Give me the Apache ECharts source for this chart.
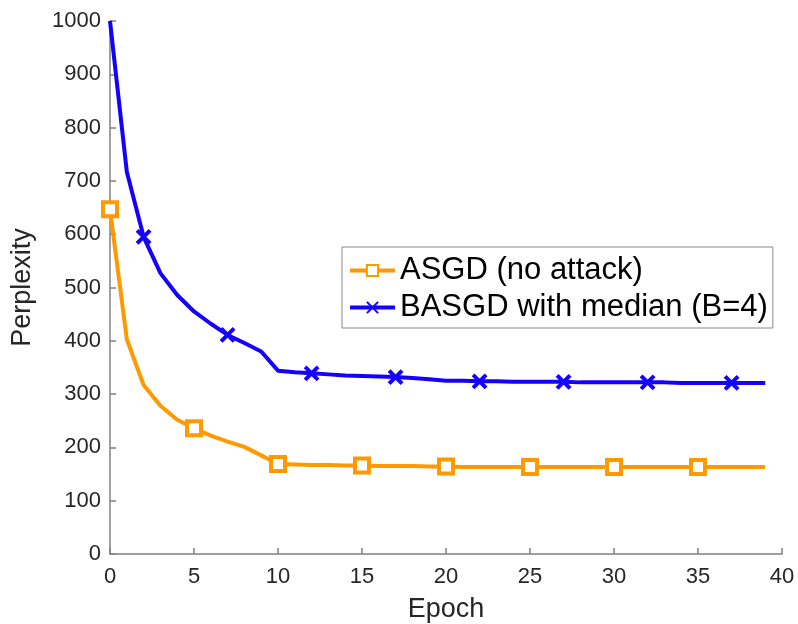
<!DOCTYPE html>
<html>
<head>
<meta charset="utf-8">
<script src="https://cdn.jsdelivr.net/npm/echarts@6/dist/echarts.min.js"></script>
<style>
  html, body { margin: 0; padding: 0; background: #fff; }
  #chart { width: 798px; height: 624px; }
</style>
</head>
<body>
<div id="chart"></div>
<script>
var epochs = [];
for (var e = 0; e < 40; e++) epochs.push(e);

// values
var asgd = [647, 403, 317, 278, 252, 236, 222, 211, 201, 185,
            169, 168, 167, 167, 166, 166, 165, 165, 165, 164,
            164, 163, 163, 163, 163, 163, 163, 163, 163, 163,
            163, 163, 163, 163, 163, 163, 163, 163, 163, 163];
var basgd = [1000, 717, 595, 527, 486, 455, 432, 411, 396, 380,
             344, 341, 339, 337, 335, 334, 333, 332, 330, 328,
             325, 325, 324, 324, 323, 323, 323, 323, 322, 322,
             322, 322, 322, 322, 321, 321, 321, 321, 321, 321];
var asgdMarks = [0, 5, 10, 15, 20, 25, 30, 35];
var basgdMarks = [2, 7, 12, 17, 22, 27, 32, 37];

function build(values, marks) {
    return values.map(function (v, i) {
        var item = { value: [epochs[i], v] };
        if (marks.indexOf(i) < 0) item.symbol = 'none';
        return item;
    });
}

var myChart = echarts.init(document.getElementById('chart'));
var fontFam = 'Liberation Sans, Arial, sans-serif';
var axisGray = '#808080';

option = {
    backgroundColor: '#fff',
    animation: false,
    grid: { left: 110, right: 16, top: 21, bottom: 70, outerBoundsMode: 'none', containLabel: false },
    legend: {
        orient: 'vertical',
        left: 342,
        top: 247,
        padding: [8, 5, 5, 6],
        itemGap: 6,
        itemWidth: 45,
        itemHeight: 14,
        borderColor: '#888',
        borderWidth: 1,
        lineStyle: { width: 4 },
        textStyle: { fontFamily: fontFam, fontSize: 31, color: '#000', lineHeight: 31 },
        data: ['ASGD (no attack)', 'BASGD with median (B=4)']
    },
    xAxis: {
        type: 'value',
        min: 0, max: 40, interval: 5,
        name: 'Epoch',
        nameLocation: 'middle',
        nameGap: 42,
        nameTextStyle: { fontFamily: fontFam, fontSize: 27, color: '#262626' },
        splitLine: { show: false },
        axisLine: { lineStyle: { color: axisGray, width: 1.5 } },
        axisTick: { inside: true, length: 6, lineStyle: { color: axisGray, width: 1.5 } },
        axisLabel: { fontFamily: fontFam, fontSize: 22, color: '#262626', margin: 12 }
    },
    yAxis: {
        type: 'value',
        min: 0, max: 1000, interval: 100,
        name: 'Perplexity',
        nameLocation: 'middle',
        nameGap: 74,
        nameTextStyle: { fontFamily: fontFam, fontSize: 27, color: '#262626' },
        splitLine: { show: false },
        axisLine: { show: true, lineStyle: { color: axisGray, width: 1.5 } },
        axisTick: { show: true, inside: true, length: 6, lineStyle: { color: axisGray, width: 1.5 } },
        axisLabel: { fontFamily: fontFam, fontSize: 22, color: '#262626', margin: 9,
            formatter: function (v) { return String(v); } }
    },
    series: [{
        name: 'ASGD (no attack)',
        type: 'line',
        symbol: 'rect',
        symbolSize: 14,
        lineStyle: { color: '#FF9900', width: 4 },
        itemStyle: { color: '#fff', borderColor: '#FF9900', borderWidth: 4 },
        data: build(asgd, asgdMarks)
    }, {
        name: 'BASGD with median (B=4)',
        type: 'line',
        symbol: 'path://M0,0L10,10M10,0L0,10',
        symbolSize: 13,
        lineStyle: { color: '#1400FF', width: 4 },
        itemStyle: { color: '#1400FF', borderColor: '#1400FF', borderWidth: 4 },
        data: build(basgd, basgdMarks)
    }]
};
myChart.setOption(option);
</script>
</body>
</html>
